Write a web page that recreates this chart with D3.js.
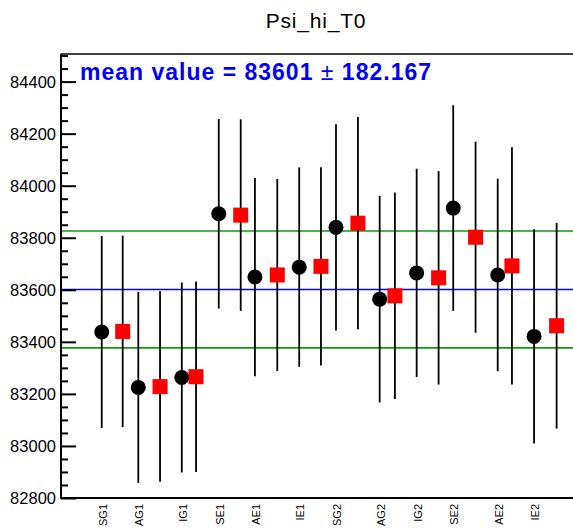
<!DOCTYPE html>
<html>
<head>
<meta charset="utf-8">
<script src="https://cdn.jsdelivr.net/npm/d3@7"></script>
<style>
  body { margin: 0; background: #fff; }
  svg { display: block; font-family: "Liberation Sans", Arial, sans-serif; }
</style>
</head>
<body>
<div id="plot"></div>
<script>
// Run labels, shown under the black points
const labels = ["SG1","AG1","IG1","SE1","AE1","IE1","SG2","AG2","IG2","SE2","AE2","IE2"];

// x positions (axis units) of the two series
const xBlack = [2.06, 3.91, 6.11, 7.98, 9.81, 12.05, 13.91, 16.12, 17.99, 19.84, 22.09, 23.93];
const xRed   = [3.12, 5.01, 6.83, 9.09, 10.94, 13.15, 15.02, 16.89, 19.10, 20.97, 22.81, 25.07];

// values and errors
const yBlack = [83438, 83225, 83263, 83892, 83649, 83687, 83840, 83564, 83665, 83914, 83657, 83421];
const eBlack = [369, 367, 365, 364, 381, 383, 396, 397, 400, 395, 370, 412];
const yRed   = [83440, 83228, 83266, 83887, 83657, 83690, 83856, 83577, 83646, 83802, 83692, 83462];
const eRed   = [368, 366, 366, 368, 369, 381, 408, 397, 410, 367, 456, 395];

// mean and band
const meanValue = 83601;
const meanError = 182.167;
const bandLines = [83826, 83377];

const yMajor = d3.range(82800, 84401, 200);
const yMinor = d3.range(82800, 84501, 50);

const width = 573, height = 528;
const margin = {top: 54, right: -2, bottom: 30, left: 61};

const svg = d3.select("#plot").append("svg")
  .attr("width", width)
  .attr("height", height);

const x = d3.scaleLinear([0, 26], [margin.left, width - margin.right]);
const y = d3.scaleLinear([82800, 84506], [height - margin.bottom, margin.top]);

// Title
svg.append("text")
  .attr("x", 316)
  .attr("y", 28)
  .attr("text-anchor", "middle")
  .style("font-size", "21px")
  .style("letter-spacing", "0.8px")
  .text("Psi_hi_T0");

// Horizontal reference lines
svg.selectAll("line.band")
  .data(bandLines)
  .join("line")
    .attr("class", "band")
    .attr("x1", margin.left).attr("x2", width)
    .attr("y1", d => y(d)).attr("y2", d => y(d))
    .attr("stroke", "#129912")
    .attr("stroke-width", 1.6);
svg.append("line")
  .attr("x1", margin.left).attr("x2", width)
  .attr("y1", y(meanValue)).attr("y2", y(meanValue))
  .attr("stroke", "#0000ff")
  .attr("stroke-width", 1.6);

// Error bars
const bars = [
  ...xBlack.map((d, i) => ({x: d, v: yBlack[i], e: eBlack[i]})),
  ...xRed.map((d, i) => ({x: d, v: yRed[i], e: eRed[i]}))
];
svg.selectAll("line.err")
  .data(bars)
  .join("line")
    .attr("class", "err")
    .attr("x1", d => x(d.x)).attr("x2", d => x(d.x))
    .attr("y1", d => y(d.v - d.e)).attr("y2", d => y(d.v + d.e))
    .attr("stroke", "#000")
    .attr("stroke-width", 1.8);

// Markers
svg.selectAll("circle.pt")
  .data(xBlack)
  .join("circle")
    .attr("class", "pt")
    .attr("cx", d => x(d))
    .attr("cy", (d, i) => y(yBlack[i]))
    .attr("r", 7.5)
    .attr("fill", "#000");
svg.selectAll("rect.pt")
  .data(xRed)
  .join("rect")
    .attr("class", "pt")
    .attr("x", d => x(d) - 7.5)
    .attr("y", (d, i) => y(yRed[i]) - 7.5)
    .attr("width", 15)
    .attr("height", 15)
    .attr("fill", "#ff0000");

// Frame
svg.append("line")
  .attr("x1", margin.left).attr("x2", width)
  .attr("y1", margin.top).attr("y2", margin.top)
  .attr("stroke", "#000").attr("stroke-width", 1.5);
svg.append("line")
  .attr("x1", margin.left).attr("x2", width)
  .attr("y1", height - margin.bottom).attr("y2", height - margin.bottom)
  .attr("stroke", "#000").attr("stroke-width", 2);

// y axis: ticks drawn inside the frame
const yAxis = d3.axisRight(y)
  .tickValues(yMajor)
  .tickSize(15)
  .tickFormat("");
const yAxisMinor = d3.axisRight(y)
  .tickValues(yMinor.filter(v => !yMajor.includes(v)))
  .tickSize(7)
  .tickFormat("");
const yG = svg.append("g").attr("transform", `translate(${margin.left},0)`);
yG.call(yAxis);
yG.append("g").call(yAxisMinor);
yG.selectAll(".domain").remove();
yG.selectAll("line").attr("stroke-width", 2);
yG.append("line")
  .attr("x1", 0).attr("x2", 0)
  .attr("y1", margin.top).attr("y2", height - margin.bottom + 1)
  .attr("stroke", "#000").attr("stroke-width", 2);

svg.selectAll("text.ylab")
  .data(yMajor)
  .join("text")
    .attr("class", "ylab")
    .attr("x", 56)
    .attr("y", d => y(d))
    .attr("dy", "0.36em")
    .attr("text-anchor", "end")
    .style("font-size", "16.5px")
    .text(d => d);

// x labels, rotated
svg.selectAll("text.xlab")
  .data(labels)
  .join("text")
    .attr("class", "xlab")
    .attr("text-anchor", "end")
    .attr("transform", (d, i) => `translate(${x(xBlack[i]) + 5}, 504) rotate(-90)`)
    .style("font-size", "11px")
    .text(d => d);

// Mean text
const mt = svg.append("text")
  .attr("x", 80)
  .attr("y", 80)
  .attr("fill", "#0000ff")
  .style("font-size", "23px")
  .style("letter-spacing", "1px")
  .style("font-weight", "bold");
mt.append("tspan").text(`mean value = ${meanValue} `);
mt.append("tspan").style("font-weight", "normal").text("±");
mt.append("tspan").text(` ${meanError}`);
</script>
</body>
</html>
